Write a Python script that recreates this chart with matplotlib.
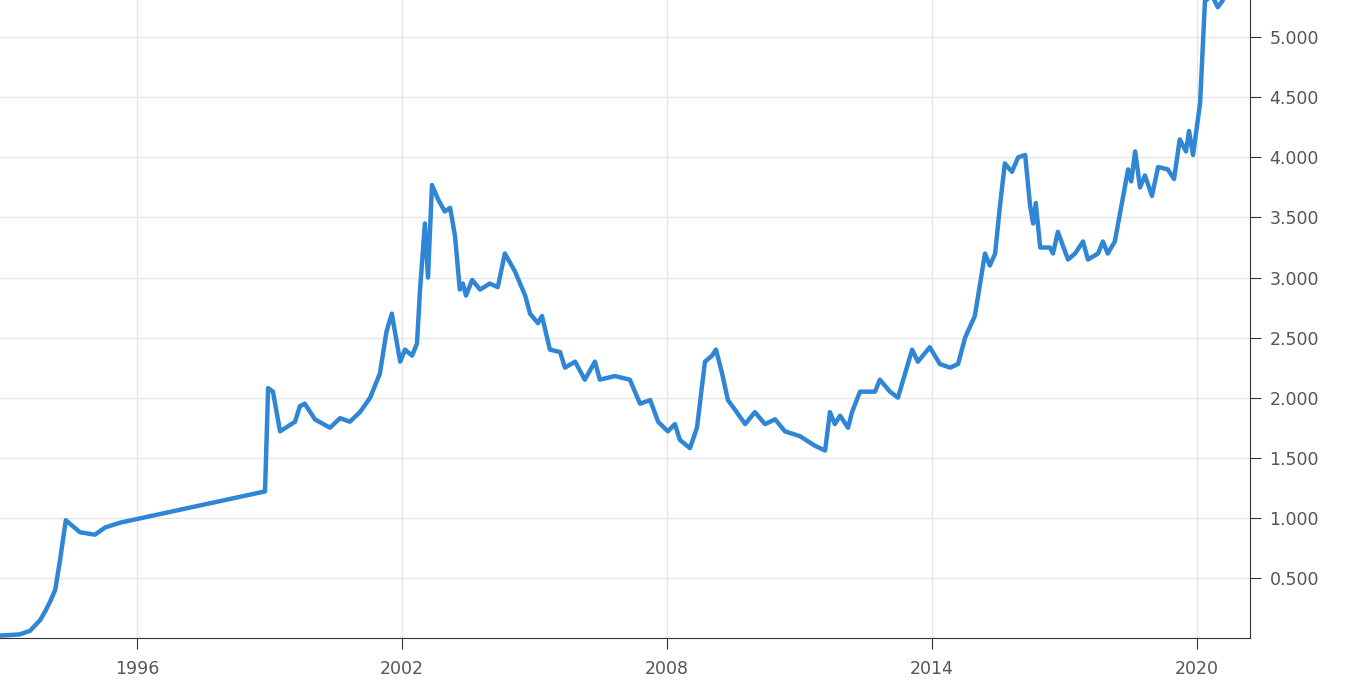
import numpy as np
import matplotlib
matplotlib.use("Agg")
import matplotlib.pyplot as plt
from matplotlib.ticker import FuncFormatter

year_offset = np.array([0,0.45,0.68,0.91,1.02,1.13,1.25,1.36,1.49,1.81,2.15,2.38,2.72,6.0,6.07,6.18,6.34,6.68,6.79,6.9,7.13,7.47,7.7,7.92,8.15,8.38,8.6,8.75,8.87,9.06,9.17,9.33,9.44,9.51,9.62,9.69,9.78,9.92,10.07,10.19,10.3,10.41,10.48,10.55,10.69,10.87,11.09,11.27,11.43,11.66,11.89,12.0,12.18,12.27,12.45,12.68,12.79,13.02,13.24,13.47,13.58,13.92,14.26,14.49,14.72,14.9,15.12,15.28,15.39,15.62,15.78,15.96,16.12,16.21,16.35,16.48,16.64,16.87,17.09,17.32,17.55,17.77,18.11,18.45,18.68,18.79,18.9,19.02,19.2,19.29,19.47,19.81,19.92,20.15,20.33,20.49,20.65,20.78,21.05,21.28,21.51,21.69,21.85,22.07,22.3,22.41,22.53,22.64,22.75,22.91,23.05,23.21,23.32,23.39,23.45,23.55,23.77,23.84,23.95,24.18,24.34,24.52,24.63,24.86,24.97,25.08,25.24,25.54,25.61,25.7,25.81,25.92,26.08,26.22,26.44,26.58,26.71,26.85,26.92,27.01,27.17,27.24,27.28,27.44,27.57,27.67])
years = 1992.9 + year_offset
values = [0.02,0.03,0.06,0.15,0.22,0.3,0.4,0.65,0.98,0.88,0.86,0.92,0.96,1.22,2.08,2.05,1.72,1.8,1.93,1.95,1.82,1.75,1.83,1.80,1.88,2.0,2.2,2.55,2.7,2.3,2.4,2.35,2.45,2.9,3.45,3.0,3.77,3.65,3.55,3.58,3.35,2.9,2.95,2.85,2.98,2.9,2.95,2.92,3.2,3.05,2.85,2.7,2.62,2.68,2.4,2.38,2.25,2.3,2.15,2.3,2.15,2.18,2.15,1.95,1.98,1.8,1.72,1.78,1.65,1.58,1.75,2.3,2.35,2.4,2.2,1.98,1.9,1.78,1.88,1.78,1.82,1.72,1.68,1.6,1.56,1.88,1.78,1.85,1.75,1.88,2.05,2.05,2.15,2.05,2.0,2.2,2.4,2.3,2.42,2.28,2.25,2.28,2.5,2.68,3.2,3.1,3.2,3.6,3.95,3.88,4.0,4.02,3.6,3.45,3.62,3.25,3.25,3.2,3.38,3.15,3.2,3.3,3.15,3.2,3.3,3.2,3.3,3.9,3.8,4.05,3.75,3.85,3.68,3.92,3.9,3.82,4.15,4.05,4.22,4.02,4.45,5.0,5.3,5.35,5.25,5.3]
x_ticks = [1996, 2002, 2008, 2014, 2020]
y_ticks = [0.5, 1.0, 1.5, 2.0, 2.5, 3.0, 3.5, 4.0, 4.5, 5.0]

fig = plt.figure(figsize=(13.6, 6.87), dpi=100)
ax = fig.add_axes([0, 49/687, 1250/1360, 638/687])
ax.plot(years, values, color="#2f86d4", lw=3.2, solid_joinstyle="round")
ax.set_xlim(1992.9, 2021.2)
ax.set_ylim(0, 5.31)
ax.set_xticks(x_ticks)
ax.set_yticks(y_ticks)
ax.yaxis.set_major_formatter(FuncFormatter(lambda v, p: f"{v:.3f}"))
ax.yaxis.tick_right()
ax.grid(True, color="#e6e6e6", lw=1)
ax.set_axisbelow(True)
for s in ["top", "left"]:
    ax.spines[s].set_visible(False)
ax.spines["right"].set_color("#333333")
ax.spines["bottom"].set_color("#333333")
ax.tick_params(axis="y", colors="#333333", labelcolor="#555555", labelsize=12.5, length=8, pad=6)
ax.tick_params(axis="x", colors="#333333", labelcolor="#555555", labelsize=12.5, length=8, pad=8)
fig.savefig("out.png", dpi=100)
